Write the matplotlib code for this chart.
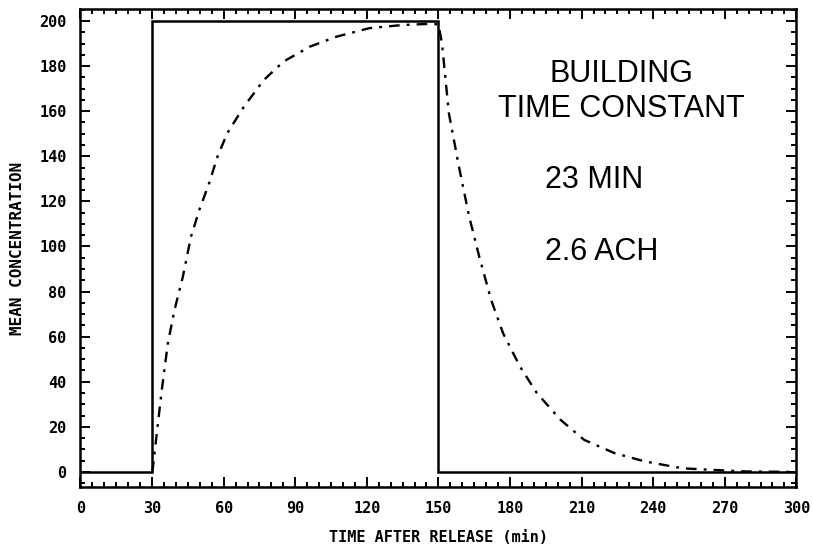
import numpy as np
import matplotlib
matplotlib.use('Agg')
import matplotlib.pyplot as plt
from matplotlib.ticker import MultipleLocator

# data #
release_t = [0, 30, 30, 150, 150, 300]            # release on/off (min)
release_c = [0, 0, 200, 200, 0, 0]

mean_t = [30, 30.4, 33.9, 36.6, 39.4, 42.9, 46.3, 49.8, 53.9, 57.4, 61.5, 68.5,
          76.8, 85.1, 96.1, 107.2, 121, 134.9, 145.9, 150,
          151.5, 154.4, 158.6, 162.9, 167.1, 172.1, 177.1, 184.2, 191.3, 201.2,
          211.1, 223.9, 236.7, 252.3, 265, 279, 300]
mean_c = [0, 2.4, 34.9, 57, 71.8, 86.6, 104.3, 116.2, 128, 139.8, 150.2, 162,
          173.8, 182, 188.6, 193, 196.8, 198.2, 198.7, 198.5,
          190, 159, 135.4, 113.2, 95.5, 76.3, 61.5, 46.7, 34.9, 23.1,
          14.2, 8.3, 4.6, 1.6, 0.9, 0.2, 0]

x_ticks = [0, 30, 60, 90, 120, 150, 180, 210, 240, 270, 300]
y_ticks = [0, 20, 40, 60, 80, 100, 120, 140, 160, 180, 200]

mono = 'DejaVu Sans Mono'

# plotting #
fig = plt.figure(figsize=(8.13, 5.53), dpi=100)
ax = fig.add_axes([0.099, 0.1193, 0.8805, 0.8644])

ax.plot(release_t, release_c, color='black', lw=1.8, solid_joinstyle='miter')
ax.plot(mean_t, mean_c, color='black', lw=1.7, linestyle=(0, (4.5, 3, 1.2, 3)))

ax.set_xlim(0, 300)
ax.set_ylim(-6.7, 205.3)
ax.set_xticks(x_ticks)
ax.set_yticks(y_ticks)
ax.xaxis.set_minor_locator(MultipleLocator(5))
ax.yaxis.set_minor_locator(MultipleLocator(5))
ax.tick_params(which='both', direction='in', top=True, right=True, width=1.4)
ax.tick_params(which='major', length=7, labelsize=11, pad=10)
ax.tick_params(which='minor', length=3.5)
for lab in ax.get_xticklabels() + ax.get_yticklabels():
    lab.set_family(mono)
    lab.set_fontweight('bold')
for sp in ax.spines.values():
    sp.set_linewidth(1.8)

ax.set_xlabel('TIME AFTER RELEASE (min)', family=mono, fontweight='bold',
              fontsize=11, labelpad=10)
ax.set_ylabel('MEAN CONCENTRATION', family=mono, fontweight='bold',
              fontsize=11.5, labelpad=10)

txt = dict(family='Liberation Sans', fontsize=22, color='black', va='baseline')
ax.text(226.6, 173, 'BUILDING', ha='center', **txt)
ax.text(226.6, 157.4, 'TIME CONSTANT', ha='center', **txt)
ax.text(194.8, 126, '23 MIN', ha='left', **txt)
ax.text(194.8, 94, '2.6 ACH', ha='left', **txt)

plt.savefig('out.png', dpi=100)
